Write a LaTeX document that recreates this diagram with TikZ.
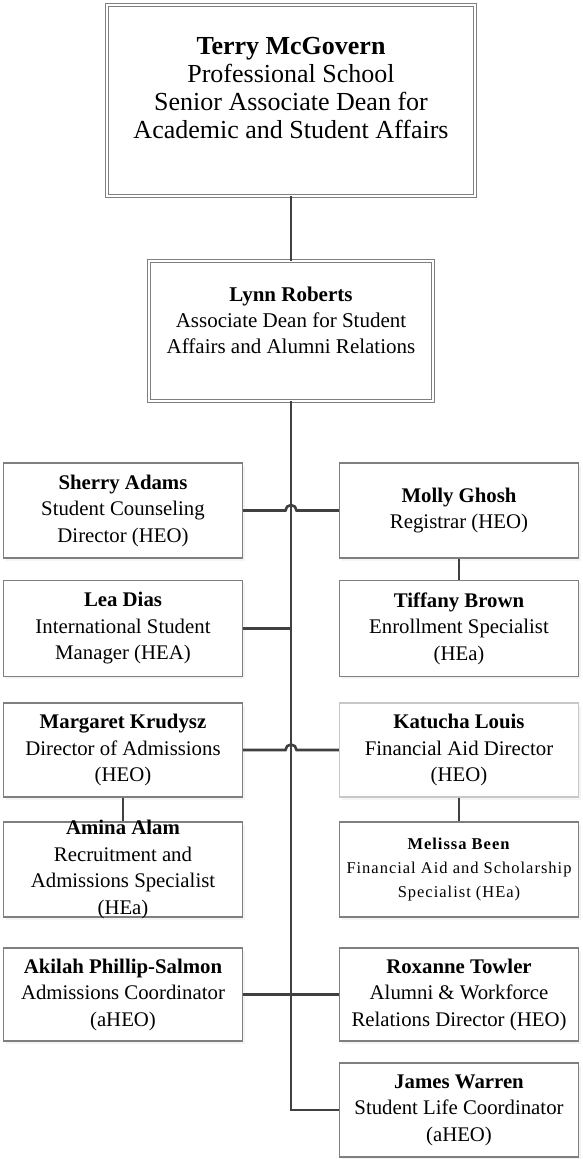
\documentclass[tikz,border=0pt]{standalone}
\usepackage{fontspec}
\setmainfont{Liberation Serif}
\usetikzlibrary{shadows}
\definecolor{boxline}{HTML}{7F7F7F}
\definecolor{boxlight}{HTML}{C8C8C8}
\definecolor{conn}{HTML}{404040}
\begin{document}
\begin{tikzpicture}[x=1pt,y=1pt,
  shade/.style={drop shadow={shadow xshift=2pt, shadow yshift=-2.5pt, fill=black!8}},
  sbox/.style={draw=boxline, line width=1.3pt, fill=white, inner sep=0pt, shade, minimum width=239pt},
  dbox/.style={draw=boxline, line width=1.1pt, double=white, double distance=2pt, fill=white, inner sep=0pt, shade},
  lbl/.style={align=center, inner sep=0pt, font={\fontsize{20.8}{26.5}\selectfont}},
  link/.style={draw=conn, line width=2.6pt}
]
\fill[white] (0,0) rectangle (583,-1159);
\useasboundingbox (0,0) rectangle (583,-1159);

% top boxes
\node[dbox, minimum width=367.8pt, minimum height=190.8pt] (terry) at (291,-100.5) {};
\node[lbl, font={\fontsize{26}{28}\selectfont}] (terryT) at (291,-88) {\textbf{Terry McGovern}\\Professional School\\Senior Associate Dean for\\Academic and Student Affairs};

\node[dbox, minimum width=283.8pt, minimum height=139.8pt] (lynn) at (291,-331) {};
\node[lbl, font={\fontsize{21}{26}\selectfont}] (lynnT) at (291,-320) {\textbf{Lynn Roberts}\\Associate Dean for Student\\Affairs and Alumni Relations};

% row 1
\node[sbox, minimum height=95pt] (sherry) at (123,-510.5) {};
\node[lbl] (sherryT) at (sherry) {\textbf{Sherry Adams}\\Student Counseling\\Director (HEO)};
\node[sbox, minimum height=95pt] (molly) at (459,-510.5) {};
\node[lbl] (mollyT) at (molly) {\textbf{Molly Ghosh}\\Registrar (HEO)};

% row 2
\node[sbox, minimum height=96pt] (lea) at (123,-628.5) {};
\node[lbl] (leaT) at (lea) {\textbf{Lea Dias}\\International Student\\Manager (HEA)};
\node[sbox, minimum height=96pt] (tiffany) at (459,-628.5) {};
\node[lbl] (tiffanyT) at (tiffany) {\textbf{Tiffany Brown}\\Enrollment Specialist\\(HEa)};

% row 3
\node[sbox, minimum height=94pt] (margaret) at (123,-750) {};
\node[lbl] (margaretT) at (margaret) {\textbf{Margaret Krudysz}\\Director of Admissions\\(HEO)};
\node[sbox, draw=boxlight, minimum height=94pt] (katucha) at (459,-750) {};
\node[lbl] (katuchaT) at (katucha) {\textbf{Katucha Louis}\\Financial Aid Director\\(HEO)};

% row 4
\node[sbox, minimum height=95pt] (amina) at (123,-869.5) {};
\node[lbl] (aminaT) at (amina) {\textbf{Amina Alam}\\Recruitment and\\Admissions Specialist\\(HEa)};
\node[sbox, minimum height=95pt] (melissa) at (459,-869.5) {};
\node[lbl, font={\fontsize{16.5}{24}\selectfont\addfontfeatures{LetterSpace=6}}] (melissaT) at (melissa) {\textbf{Melissa Been}\\Financial Aid and Scholarship\\Specialist (HEa)};

% row 5
\node[sbox, minimum height=93pt] (akilah) at (123,-994.5) {};
\node[lbl] (akilahT) at (akilah) {\textbf{Akilah Phillip-Salmon}\\Admissions Coordinator\\(aHEO)};
\node[sbox, minimum height=93pt] (roxanne) at (459,-994.5) {};
\node[lbl] (roxanneT) at (roxanne) {\textbf{Roxanne Towler}\\Alumni \& Workforce\\Relations Director (HEO)};

% row 6
\node[sbox, minimum height=94pt] (james) at (459,-1110) {};
\node[lbl] (jamesT) at (james) {\textbf{James Warren}\\Student Life Coordinator\\(aHEO)};

% connectors
\draw[link] (terry.south) -- (lynn.north);
\draw[link] (lynn.south) |- (james.west);

\path (lynn.south |- sherry.east) coordinate (x1);
\draw[link] (sherry.east) -- ([xshift=-5.5pt]x1) arc[start angle=180, end angle=0, radius=5.5pt] -- (molly.west);

\draw[link] (lea.east) -- (lea.east -| lynn.south);
\draw[link] (molly.south) -- (tiffany.north);

\path (lynn.south |- margaret.east) coordinate (x3);
\draw[link] (margaret.east) -- ([xshift=-5.5pt]x3) arc[start angle=180, end angle=0, radius=5.5pt] -- (katucha.west);

\draw[link] (margaret.south) -- (amina.north);
\draw[link] (katucha.south) -- (melissa.north);

\draw[link] (akilah.east) -- (roxanne.west);
\end{tikzpicture}
\end{document}
